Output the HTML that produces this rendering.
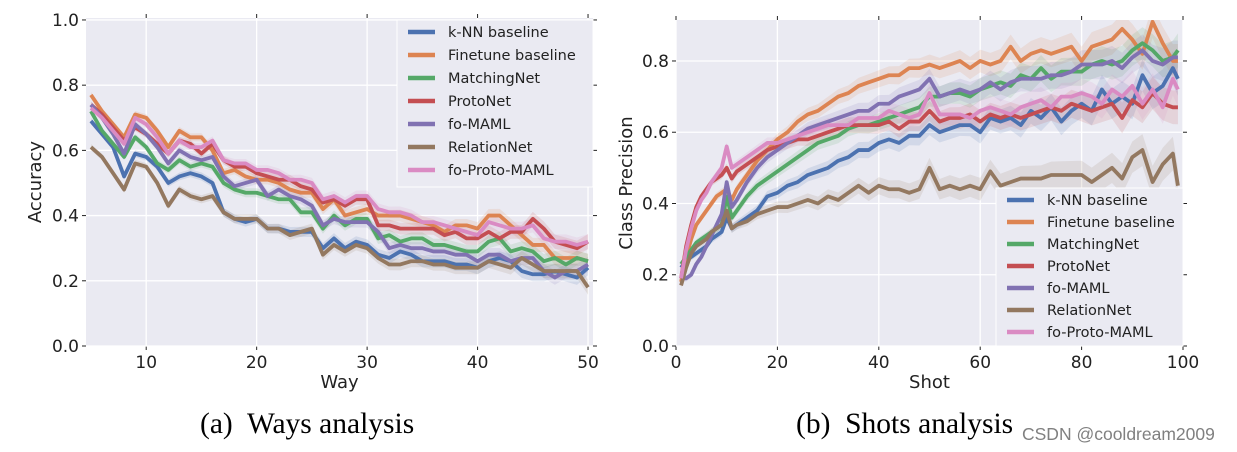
<!DOCTYPE html>
<html><head><meta charset="utf-8">
<style>
body{margin:0;background:#fff;width:1237px;height:452px;overflow:hidden;font-family:"DejaVu Sans","Liberation Sans",sans-serif;}
svg{position:absolute;left:0;top:0}
.cap{position:absolute;font-family:"Liberation Serif",serif;font-size:29.5px;color:#000;white-space:nowrap}
</style></head><body>
<svg id="chart" width="1237" height="452"></svg>
<div class="cap" style="left:200px;top:408px">(a)&nbsp; Ways analysis</div>
<div class="cap" style="left:796px;top:408px">(b)&nbsp; Shots analysis</div>
<div style="position:absolute;left:1022px;top:424px;font-size:17.5px;color:#808080;font-family:'Liberation Sans',sans-serif">CSDN @cooldream2009</div>
<script>
const seriesNames=["k-NN baseline","Finetune baseline","MatchingNet","ProtoNet","fo-MAML","RelationNet","fo-Proto-MAML"];
const colors=["#4C72B0","#DD8452","#55A868","#C44E52","#8172B2","#937860","#DA8BC3"];
const ways=[];for(let w=5;w<=50;w++)ways.push(w);
const waysKnn=[.69,.65,.61,.52,.59,.58,.55,.50,.52,.53,.52,.50,.41,.39,.38,.39,.36,.36,.35,.35,.35,.30,.33,.30,.32,.31,.28,.27,.29,.28,.26,.26,.26,.25,.25,.24,.26,.27,.26,.23,.22,.22,.23,.22,.21,.24];
const waysFinetune=[.77,.72,.68,.64,.71,.70,.66,.61,.66,.64,.64,.60,.53,.54,.52,.51,.51,.50,.48,.47,.47,.42,.45,.40,.41,.42,.40,.40,.40,.39,.38,.37,.35,.37,.37,.36,.40,.40,.37,.34,.31,.31,.27,.27,.27,.26];
const waysMatching=[.72,.66,.62,.58,.64,.61,.56,.54,.57,.55,.56,.55,.50,.48,.47,.47,.46,.45,.45,.41,.41,.36,.40,.37,.39,.39,.33,.34,.32,.33,.33,.31,.31,.30,.29,.29,.32,.33,.29,.30,.29,.26,.27,.25,.27,.26];
const waysProto=[.74,.71,.67,.63,.67,.65,.62,.59,.63,.62,.59,.62,.57,.55,.55,.53,.52,.51,.51,.49,.48,.44,.45,.43,.45,.45,.37,.37,.36,.36,.36,.36,.34,.35,.33,.33,.35,.33,.35,.35,.39,.36,.32,.31,.30,.32];
const waysMaml=[.74,.70,.65,.59,.68,.65,.61,.56,.60,.58,.57,.58,.52,.49,.50,.51,.46,.48,.46,.45,.43,.37,.39,.38,.38,.38,.35,.30,.31,.30,.30,.29,.29,.28,.28,.26,.28,.28,.26,.27,.27,.23,.21,.23,.23,.25];
const waysRelation=[.61,.58,.53,.48,.56,.55,.50,.43,.48,.46,.45,.46,.41,.39,.39,.39,.36,.36,.34,.35,.36,.28,.31,.29,.31,.30,.27,.25,.25,.26,.26,.25,.25,.24,.24,.24,.26,.25,.24,.27,.25,.23,.23,.23,.23,.18];
const waysProtoMaml=[.73,.70,.66,.62,.70,.68,.64,.59,.63,.61,.61,.63,.57,.56,.56,.54,.54,.53,.51,.51,.50,.45,.46,.44,.46,.46,.42,.41,.41,.40,.38,.38,.37,.36,.35,.34,.38,.37,.36,.36,.37,.33,.32,.32,.31,.32];
const shots=[1,2,3,4,5,6,7,8,9,10,11,12,14,16,18,20,22,24,26,28,30,32,34,36,38,40,42,44,46,48,50,52,54,56,58,60,62,64,66,68,70,72,74,76,78,80,82,84,86,88,90,92,94,96,98,99];
const shotsKnn=[.22,.24,.25,.26,.27,.28,.30,.31,.32,.36,.33,.34,.36,.38,.42,.43,.45,.46,.48,.49,.50,.52,.53,.55,.55,.57,.58,.57,.59,.59,.62,.60,.61,.62,.62,.60,.64,.63,.64,.62,.66,.64,.67,.63,.66,.68,.66,.72,.68,.70,.68,.76,.71,.73,.78,.75];
const shotsFinetune=[.18,.25,.30,.34,.36,.38,.40,.42,.43,.44,.41,.44,.48,.52,.55,.58,.60,.63,.65,.66,.68,.70,.71,.73,.74,.75,.76,.76,.78,.78,.79,.78,.79,.80,.78,.80,.79,.80,.84,.80,.82,.83,.82,.83,.84,.80,.84,.85,.86,.89,.86,.82,.91,.85,.80,.80];
const shotsMatching=[.23,.25,.27,.29,.30,.31,.32,.33,.34,.42,.36,.38,.42,.45,.47,.49,.51,.53,.55,.57,.58,.59,.61,.62,.62,.63,.64,.65,.66,.67,.70,.70,.71,.71,.70,.72,.73,.74,.73,.76,.75,.78,.75,.77,.77,.77,.79,.80,.79,.80,.83,.85,.83,.80,.81,.83];
const shotsProto=[.19,.28,.34,.39,.42,.44,.46,.47,.48,.50,.47,.49,.51,.53,.55,.56,.57,.58,.58,.59,.60,.61,.62,.62,.62,.62,.63,.61,.63,.63,.66,.63,.64,.64,.65,.63,.65,.64,.65,.64,.65,.66,.67,.66,.68,.67,.66,.67,.68,.64,.69,.67,.71,.68,.67,.67];
const shotsMaml=[.19,.19,.20,.23,.25,.28,.31,.34,.37,.46,.39,.41,.46,.50,.53,.55,.57,.59,.61,.62,.63,.64,.65,.66,.66,.68,.68,.70,.71,.72,.75,.70,.71,.72,.71,.72,.74,.72,.74,.75,.75,.75,.76,.76,.77,.79,.79,.79,.80,.78,.81,.83,.80,.79,.81,.81];
const shotsRelation=[.17,.22,.26,.28,.29,.30,.32,.33,.34,.38,.33,.34,.35,.37,.38,.39,.39,.40,.41,.40,.42,.41,.43,.45,.43,.45,.44,.44,.43,.44,.50,.44,.45,.44,.45,.44,.49,.45,.46,.47,.47,.47,.48,.48,.48,.48,.46,.48,.50,.47,.53,.55,.46,.51,.54,.45];
const shotsProtoMaml=[.19,.27,.33,.38,.41,.43,.46,.48,.50,.56,.50,.51,.53,.55,.57,.57,.58,.59,.60,.61,.62,.62,.62,.64,.64,.64,.66,.65,.64,.65,.71,.65,.65,.65,.64,.66,.67,.66,.65,.67,.68,.69,.67,.70,.70,.71,.70,.68,.72,.70,.73,.68,.72,.67,.75,.72];
const waysTicksX=[10,20,30,40,50];
const waysTicksY=["0.0","0.2","0.4","0.6","0.8","1.0"];
const shotsTicksX=[0,20,40,60,80,100];
const shotsTicksY=["0.0","0.2","0.4","0.6","0.8"];

const NS="http://www.w3.org/2000/svg";
const svg=document.getElementById("chart");
function mk(tag,attrs,parent){const e=document.createElementNS(NS,tag);for(const k in attrs)e.setAttribute(k,attrs[k]);(parent||svg).appendChild(e);return e;}

function panel(cfg){
  const g=mk("g",{});
  
  
  const sx=v=>cfg.L+(v-cfg.x0)/(cfg.x1-cfg.x0)*(cfg.R-cfg.L);
  const sy=v=>cfg.B-(v-cfg.y0)/(cfg.y1-cfg.y0)*(cfg.B-cfg.T);
  const bg=mk("rect",{x:cfg.L,y:cfg.T,width:cfg.R-cfg.L,height:cfg.B-cfg.T,fill:"#EAEAF2"},g);
  
  
  cfg.tx.forEach(t=>{
    const x=sx(t);
    const gl=mk("line",{x1:x,x2:x,y1:cfg.T,y2:cfg.B,stroke:"#fff","stroke-width":1.3},g);
    
    
    mk("line",{x1:x,x2:x,y1:cfg.B,y2:cfg.B+4,stroke:"#222"},g);
    mk("line",{x1:x,x2:x,y1:cfg.T,y2:cfg.T-4,stroke:"#222"},g);
    const tl=mk("text",{x:x,y:cfg.B+22,"text-anchor":"middle","font-size":17,fill:"#222"},g);
    tl.textContent=t;
    
    
  });
  cfg.ty.forEach(t=>{
    const y=sy(parseFloat(t));
    const gl=mk("line",{x1:cfg.L,x2:cfg.R,y1:y,y2:y,stroke:"#fff","stroke-width":1.3},g);
    
    
    mk("line",{x1:cfg.L-4,x2:cfg.L,y1:y,y2:y,stroke:"#222"},g);
    mk("line",{x1:cfg.R,x2:cfg.R+4,y1:y,y2:y,stroke:"#222"},g);
    const tl=mk("text",{x:cfg.L-7,y:y+6,"text-anchor":"end","font-size":17,fill:"#222"},g);
    tl.textContent=t;
    
    
  });
  const clip=mk("clipPath",{id:cfg.name+"-clip"},g);
  mk("rect",{x:cfg.L,y:cfg.T,width:cfg.R-cfg.L,height:cfg.B-cfg.T},clip);
  const lines=mk("g",{"clip-path":"url(#"+cfg.name+"-clip)"},g);
  cfg.series.forEach((vals,i)=>{
    const xs=cfg.xs;
    let up=[],dn=[];
    vals.forEach((v,j)=>{const e=cfg.err(xs[j]);up.push(sx(xs[j])+","+sy(v+e));dn.unshift(sx(xs[j])+","+sy(v-e));});
    const band=mk("polygon",{points:up.concat(dn).join(" "),fill:colors[i],"fill-opacity":0.15},lines);
    
    
  });
  cfg.series.forEach((vals,i)=>{
    const pts=vals.map((v,j)=>sx(cfg.xs[j])+","+sy(v)).join(" ");
    const pl=mk("polyline",{points:pts,fill:"none",stroke:colors[i],"stroke-width":3.8,"stroke-linejoin":"round"},lines);
    
    
  });
  const xl=mk("text",{x:(cfg.L+cfg.R)/2,y:cfg.B+42,"text-anchor":"middle","font-size":18,fill:"#222"},g);
  xl.textContent=cfg.xlabel;
  
  
  const yl=mk("text",{x:0,y:0,"text-anchor":"middle","font-size":18,fill:"#222",transform:"translate("+cfg.ylx+","+(cfg.T+cfg.B)/2+") rotate(-90)"},g);
  yl.textContent=cfg.ylabel;
  
  
  const lg=mk("g",{},g);
  
  
  mk("rect",{x:cfg.lg.x,y:cfg.lg.y,width:cfg.lg.w,height:cfg.lg.h,fill:"#EAEAF2",stroke:"#fff","stroke-width":1},lg);
  seriesNames.forEach((n,i)=>{
    const y=cfg.lg.y+cfg.lg.first+i*cfg.lg.step;
    const e=mk("g",{},lg);
    
    
    mk("line",{x1:cfg.lg.x+11,x2:cfg.lg.x+38,y1:y,y2:y,stroke:colors[i],"stroke-width":4.5},e);
    const t=mk("text",{x:cfg.lg.x+51,y:y+5,"font-size":14.5,fill:"#222"},e);
    t.textContent=n;
  });
}
panel({name:"ways-chart",L:86,R:593,T:18,B:346,x0:4.55,x1:50.45,y0:0,y1:1.006,xs:ways,
  series:[waysKnn,waysFinetune,waysMatching,waysProto,waysMaml,waysRelation,waysProtoMaml],
  err:x=>0.008+x*0.0003,tx:waysTicksX,ty:waysTicksY,xlabel:"Way",ylabel:"Accuracy",ylx:41,
  lg:{x:397,y:20,w:196,h:167,first:12,step:23}});
panel({name:"shots-chart",L:676,R:1183,T:20,B:346,x0:0,x1:100,y0:0,y1:0.915,xs:shots,
  series:[shotsKnn,shotsFinetune,shotsMatching,shotsProto,shotsMaml,shotsRelation,shotsProtoMaml],
  err:x=>0.008+x*0.0004,tx:shotsTicksX,ty:shotsTicksY,xlabel:"Shot",ylabel:"Class Precision",ylx:632,
  lg:{x:996,y:188,w:187,h:158,first:12,step:22}});
</script>
</body></html>
